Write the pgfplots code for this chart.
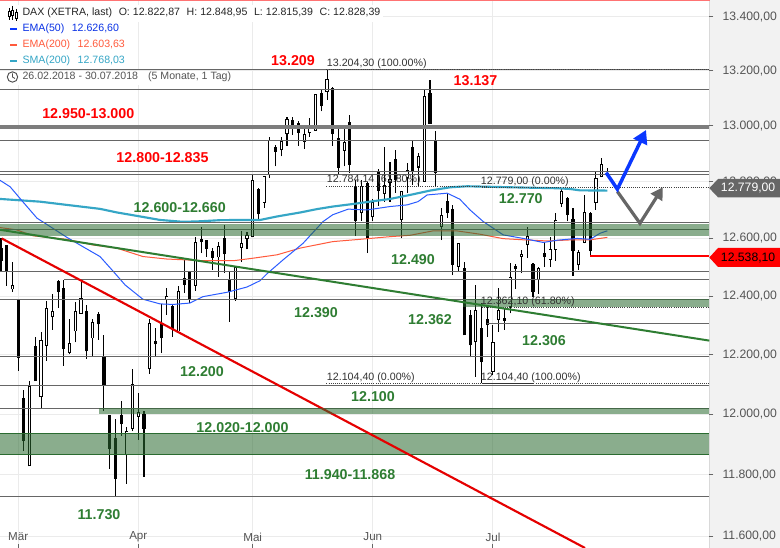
\documentclass[border=0pt]{standalone}
\usepackage{fontspec}
\setmainfont{Liberation Sans}
\usepackage{pgfplots}
\usepackage{pgfplotstable}
\pgfplotsset{compat=1.18}
\usetikzlibrary{arrows.meta}

\definecolor{bandgreen}{HTML}{2A6B30}
\definecolor{lvlgray}{HTML}{666666}
\definecolor{txtgreen}{HTML}{2E7D32}
\definecolor{ema50}{HTML}{2B5CFF}
\definecolor{ema200}{HTML}{FF5A3C}
\definecolor{sma200}{HTML}{35A6C6}
\definecolor{arrblue}{HTML}{0A37FF}
\definecolor{ticktxt}{HTML}{555555}

% candles: day index, open, high, low, close
\pgfplotstableread{
i o h l c
2 12426 12518 12415 12434
5 11831 12111 11830 12091
7 12060 12276 12021 12245
8 12234 12383 12180 12355
9 12330 12406 12284 12345
12 12210 12322 12202 12235
13 12282 12380 12241 12345
14 12343 12456 12342 12390
16 12258 12321 12195 12307
22 11867 11959 11771 11940
23 11955 12152 11943 12097
24 11995 12072 11915 12003
26 12154 12322 12135 12304
29 12391 12428 12336 12396
31 12282 12434 12281 12413
34 12438 12606 12419 12583
38 12537 12589 12467 12569
41 12394 12502 12384 12496
42 12571 12625 12517 12580
43 12602 12624 12562 12610
44 12607 12827 12606 12803
46 12729 12818 12707 12816
47 12827 12959 12814 12946
49 12916 12959 12890 12941
50 12973 13033 12928 13020
53 12945 13001 12917 12966
54 12979 13028 12961 12989
55 12985 13112 12985 13112
57 13128 13203 13094 13166
60 12914 13001 12854 12938
63 12691 12806 12662 12782
65 12677 12738 12660 12724
67 12761 12923 12729 12785
68 12798 12870 12729 12806
70 12667 12765 12600 12765
71 12816 12866 12760 12838
73 12854 12902 12782 12887
74 12804 13131 12800 13104
77 12645 12706 12594 12679
80 12504 12581 12488 12581
83 12245 12438 12126 12348
86 12146 12302 12132 12239
87 12321 12427 12278 12348
89 12364 12514 12341 12462
91 12540 12560 12479 12542
92 12580 12639 12533 12606
94 12459 12502 12407 12493
96 12529 12604 12500 12560
97 12564 12688 12523 12660
98 12726 12773 12710 12764
101 12509 12560 12490 12548
102 12588 12753 12583 12689
104 12729 12836 12700 12808
105 12820 12884 12816 12860
106 12822.87 12848.95 12815.39 12828.39
}\upcandles

\pgfplotstableread{
i o h l c
0 12566 12601 12486 12523
1 12574 12577 12436 12487
3 12387 12387 12146 12191
4 12051 12081 11879 11912
6 12229 12259 12112 12112
10 12451 12456 12360 12415
11 12425 12456 12162 12220
15 12346 12370 12186 12213
17 12335 12345 12250 12305
18 12189 12267 12011 12098
19 11997 11997 11820 11886
20 11920 11983 11729 11787
21 11997 12044 11929 11968
25 11998 12010 11793 11954
27 12243 12290 12193 12236
28 12305 12373 12205 12257
30 12366 12372 12261 12290
32 12462 12525 12410 12441
33 12481 12481 12376 12389
35 12598 12639 12548 12589
36 12593 12594 12537 12566
37 12555 12567 12490 12534
39 12601 12647 12481 12546
40 12456 12485 12312 12415
45 12773 12777 12667 12686
48 12923 12932 12854 12908
51 13020 13033 12967 13001
52 13007 13018 12929 12976
56 13117 13131 13052 13072
58 13137 13143 12929 12971
59 12956 13001 12824 12851
61 13013 13040 12830 12862
62 12782 12806 12608 12662
64 12794 12800 12548 12602
66 12836 12844 12715 12768
69 12878 12914 12761 12806
72 12923 12946 12788 12836
75 13116 13167 13009 13009
76 12947 12982 12782 12832
78 12731 12759 12671 12691
79 12700 12718 12473 12509
81 12496 12519 12267 12267
82 12332 12352 12191 12233
84 12290 12375 12104 12176
85 12321 12367 12261 12302
88 12324 12358 12284 12316
90 12503 12511 12426 12495
93 12508 12514 12398 12415
95 12548 12589 12500 12537
99 12739 12747 12660 12683
100 12665 12706 12470 12557
103 12686 12691 12538 12557
}\downcandles

\pgfplotsset{
  lvl/.style={lvlgray, line width=.72pt, forget plot},
  fib/.style={black!75, line width=.6pt, densely dotted, forget plot},
  band/.style={fill=bandgreen, fill opacity=.55, draw=none, forget plot},
  wick/.style={black, line width=.8pt, forget plot},
  bodyblack/.style={black, line width=2.3pt, forget plot},
  bodyframe/.style={black, line width=2.4pt, forget plot},
  bodywhite/.style={white, line width=1pt, forget plot},
}
% from, to, price
\newcommand\lvline[3]{\addplot[lvl] coordinates {(#1,#3) (#2,#3)};}
\newcommand\fibline[3]{\addplot[fib] coordinates {(#1,#3) (#2,#3)};}

\newcommand\readcandle[2]{%
  \pgfplotstablegetelem{#2}{i}\of#1\let\ci\pgfplotsretval
  \pgfplotstablegetelem{#2}{o}\of#1\let\co\pgfplotsretval
  \pgfplotstablegetelem{#2}{h}\of#1\let\ch\pgfplotsretval
  \pgfplotstablegetelem{#2}{l}\of#1\let\cl\pgfplotsretval
  \pgfplotstablegetelem{#2}{c}\of#1\let\cc\pgfplotsretval}
\newcommand\upplots{%
  \pgfplotstablegetrowsof{\upcandles}\pgfmathtruncatemacro\lastrow{\pgfplotsretval-1}%
  \pgfplotsforeachungrouped \r in {0,...,\lastrow}{%
    \readcandle{\upcandles}{\r}%
    \pgfmathsetmacro\fl{\co/1.00028}\pgfmathsetmacro\fh{\cc*1.00028}%
    \edef\temp{\noexpand\addplot[wick] coordinates {(\ci,\cl) (\ci,\ch)};
      \noexpand\addplot[bodyframe] coordinates {(\ci,\fl) (\ci,\fh)};
      \noexpand\addplot[bodywhite] coordinates {(\ci,\co) (\ci,\cc)};}\temp}}
\newcommand\downplots{%
  \pgfplotstablegetrowsof{\downcandles}\pgfmathtruncatemacro\lastrow{\pgfplotsretval-1}%
  \pgfplotsforeachungrouped \r in {0,...,\lastrow}{%
    \readcandle{\downcandles}{\r}%
    \pgfmathsetmacro\fl{\cc/1.00014}\pgfmathsetmacro\fh{\co*1.00014}%
    \edef\temp{\noexpand\addplot[wick] coordinates {(\ci,\cl) (\ci,\ch)};
      \noexpand\addplot[bodyblack] coordinates {(\ci,\fl) (\ci,\fh)};}\temp}}

% position in pixels of the reference, y from the top
\def\P(#1,#2){({#1*0.75pt},{(548-#2)*0.75pt})}
\newcommand\lab[4]{\node[font=\fontsize{10.7pt}{12pt}\bfseries\selectfont, text=#1, inner sep=0pt] at \P(#2,#3) {#4};}
\newcommand\fiblab[3]{\node[font=\fontsize{8pt}{10pt}\selectfont, text=black!80, anchor=west, inner sep=0pt] at \P(#1,#2) {#3};}
\newcommand\legfont{\fontsize{7.95pt}{10pt}\selectfont}

\begin{document}
\begin{tikzpicture}
\path[use as bounding box] (0,0) rectangle (585pt,411pt);
\fill[white] (0,0) rectangle (585pt,411pt);
\fill[black!5] \P(709.5,0) rectangle \P(780,548);
\draw[black!15, line width=.75pt] \P(709.6,0) -- \P(709.6,548);

\begin{axis}[
  at={(0,0)}, anchor=south west,
  scale only axis, width=532pt, height=411pt,
  % the price scale of the chart is logarithmic
  y coord trafo/.code={\begingroup\pgfkeys{/pgf/fpu,/pgf/fpu/output format=fixed}\pgfmathparse{ln(#1)*1000}\xdef\trafores{\pgfmathresult}\endgroup\let\pgfmathresult\trafores},
  y coord inv trafo/.code={\begingroup\pgfkeys{/pgf/fpu,/pgf/fpu/output format=fixed}\pgfmathparse{exp(#1/1000)}\xdef\trafores{\pgfmathresult}\endgroup\let\pgfmathresult\trafores},
  xmin=-0.175, xmax=123.83,
  ymin=11562.4, ymax=13462.3,
  axis line style={draw=none},
  grid=major, grid style={black!8, line width=.7pt},
  xtick={3,24,44,65,86},
  xticklabels={Mär,Apr,Mai,Jun,Jul},
  xtick pos=bottom, xtick align=inside,
  xticklabel style={anchor=center, yshift=8.2pt, text=ticktxt, font=\fontsize{8.7pt}{10pt}\selectfont},
  ytick={11600,11800,12000,12200,12400,12600,12800,13000,13200,13400},
  yticklabels={{11.600,00},{11.800,00},{12.000,00},{12.200,00},{12.400,00},{12.600,00},{12.800,00},{13.000,00},{13.200,00},{13.400,00}},
  ytick pos=right, ytick align=outside,
  yticklabel style={anchor=west, xshift=3.4pt, text=ticktxt, font=\fontsize{9.15pt}{11pt}\selectfont},
  major tick length=3pt,
  tick style={lvlgray, line width=.7pt},
  minor tick num=0,
]

% candle wicks and bodies
\upplots
\downplots

% moving averages
\addplot[sma200, line width=1.6pt, forget plot] coordinates {
 (-0.17,12739) (2.8,12735) (6.8,12729) (11.5,12718) (17.3,12704) (20.3,12691)
 (24.3,12677) (27.8,12665) (31.8,12658) (34.8,12660) (38.3,12664) (41.8,12665)
 (45.3,12665) (48.3,12677) (52.3,12691) (55.2,12703) (58,12712) (61.5,12721)
 (64.5,12729) (68,12739) (71.5,12753) (75,12768) (78.5,12780) (81.5,12784)
 (85.5,12782) (91.3,12779) (97.2,12777) (99.5,12774) (101.2,12769) (106,12768.03)};
\addplot[ema200, line width=.75pt, forget plot] coordinates {
 (-0.17,12638) (2.7,12630) (5.6,12609) (11.5,12597) (16.1,12577) (20.2,12566)
 (24.8,12537) (29,12528) (34.8,12523) (40.6,12522) (44.1,12531) (48.3,12543)
 (52.3,12566) (58,12589) (62.8,12597) (68,12606) (71.5,12611) (75.5,12626)
 (79.7,12626) (83.7,12615) (87.8,12599) (91.3,12595) (95.5,12591) (100,12595)
 (103,12595) (106,12603.63)};
\addplot[ema50, line width=.75pt, forget plot] coordinates {
 (-0.17,12805) (1.6,12782) (3.8,12729) (6.3,12671) (8.6,12641) (11.5,12604)
 (13.8,12577) (17.3,12537) (19.4,12490) (21.7,12438) (24.8,12389) (27.8,12373)
 (30.1,12371) (33,12376) (35.3,12398) (39.5,12413) (43,12431) (45.3,12453)
 (46.5,12477) (49.3,12525) (52.8,12583) (56.3,12659) (58,12683) (60.7,12703)
 (64,12700) (68,12712) (71,12718) (72.9,12729) (74.5,12753) (78,12759)
 (80.2,12738) (82,12700) (84.3,12659) (87.8,12612) (91.3,12600) (94.8,12586)
 (97.2,12594) (100.7,12600) (103,12597) (104.7,12618) (106,12626.60)};

% support and resistance levels
\lvline{-0.175}{123.83}{13206}
\lvline{-0.175}{123.83}{13133}
\lvline{-0.175}{123.83}{12948}
\lvline{-0.175}{123.83}{12835}
\lvline{-0.175}{123.83}{12826}
\lvline{-0.175}{123.83}{12657}
\lvline{-0.175}{123.83}{12632}
\lvline{-0.175}{123.83}{12486}
\lvline{11}{123.83}{12458}
\lvline{-0.175}{123.83}{12390}
\lvline{85}{123.83}{12306}
\lvline{-0.175}{123.83}{12194}
\lvline{-0.175}{123.83}{12097}
\lvline{-0.175}{123.83}{12020}
\lvline{-0.175}{123.83}{11731}
\addplot[lvlgray!85, line width=3.2pt, forget plot] coordinates {(-0.175,12996) (123.83,12996)};

% fibonacci levels
\fibline{56.9}{123.83}{13204.3}
\fibline{56.9}{85}{12784.14}
\fibline{84}{123.83}{12779}
\fibline{84}{123.83}{12362.1}
\fibline{56.9}{123.83}{12104.4}
\addplot[black!80, line width=.7pt, forget plot] coordinates {(84,12104.4) (93,12104.4)};

% bands and trend lines
\addplot[band] coordinates {(-0.175,11868) (123.83,11868) (123.83,11934) (-0.175,11934)} --cycle;
\addplot[bandgreen, line width=.7pt, forget plot] coordinates {(-0.175,11868) (123.83,11868)};
\addplot[bandgreen, line width=.7pt, forget plot] coordinates {(-0.175,11934) (123.83,11934)};
\addplot[red!90!black, line width=1.6pt, forget plot] coordinates {(0.12,12600) (102.1,11562.4)};
\addplot[band] coordinates {(17.1,12000) (123.83,12000) (123.83,12020) (17.1,12020)} --cycle;
\addplot[band] coordinates {(-0.175,12608) (123.83,12608) (123.83,12652) (-0.175,12652)} --cycle;
\addplot[band] coordinates {(80.8,12362) (123.83,12362) (123.83,12390) (80.8,12390)} --cycle;
\addplot[txtgreen, line width=1.5pt, forget plot] coordinates {(-0.175,12630) (123.83,12247.5)};

% last low and the two scenarios
\addplot[red, line width=1.5pt, forget plot] coordinates {(103,12538.1) (123.83,12538.1)};
\addplot[lvlgray, line width=2.4pt, forget plot, line join=miter, -{Triangle[length=9pt,width=10pt]}] coordinates {(107.75,12765) (111.7,12653) (115.7,12780)};
\addplot[arrblue, line width=2.6pt, forget plot, line join=miter, -{Triangle[length=10pt,width=11pt]}] coordinates {(105.8,12832) (107.75,12773) (112.76,12985)};
\end{axis}

% chart's own top edge
\draw[red!55, line width=.8pt] \P(0,0.5) -- \P(709.5,0.5);

% price tags
\fill[lvlgray] \P(709.3,188.2) -- \P(718,179) -- \P(780,179) -- \P(780,197.3) -- \P(718,197.3) -- cycle;
\node[font=\fontsize{9.15pt}{11pt}\selectfont, text=white, anchor=west, inner sep=0pt] at \P(720.7,188.3) {12.779,00};
\fill[red] \P(709.3,257.5) -- \P(718,248) -- \P(780,248) -- \P(780,267) -- \P(718,267) -- cycle;
\node[font=\fontsize{9.15pt}{11pt}\selectfont, text=black, anchor=west, inner sep=0pt] at \P(720.7,257.7) {12.538,10};

% level labels
\lab{red}{293}{61}{13.209}
\lab{red}{475.5}{81}{13.137}
\lab{red}{88.3}{114}{12.950-13.000}
\lab{red}{162.5}{158}{12.800-12.835}
\lab{txtgreen}{179.7}{208}{12.600-12.660}
\lab{txtgreen}{520.8}{199}{12.770}
\lab{txtgreen}{413}{260}{12.490}
\lab{txtgreen}{316}{313}{12.390}
\lab{txtgreen}{430}{320}{12.362}
\lab{txtgreen}{544}{341}{12.306}
\lab{txtgreen}{202}{372}{12.200}
\lab{txtgreen}{373}{397}{12.100}
\lab{txtgreen}{242.5}{428}{12.020-12.000}
\lab{txtgreen}{350}{475}{11.940-11.868}
\lab{txtgreen}{99}{515}{11.730}

% fibonacci labels
\fiblab{326.7}{64}{13.204,30 (100.00\%)}
\fiblab{326.7}{180}{12.784,14 (61.80\%)}
\fiblab{480.7}{182}{12.779,00 (0.00\%)}
\fiblab{480.7}{301.3}{12.362,10 (61.80\%)}
\fiblab{326.7}{377.3}{12.104,40 (0.00\%)}
\fiblab{480.7}{377.3}{12.104,40 (100.00\%)}

% header and legend
\fill[white] \P(0,5) rectangle \P(383,22);
\fill[white] \P(0,22) rectangle \P(130,68.8);
\fill[white] \P(0,70.8) rectangle \P(240,85);
\foreach \x/\a/\b/\c/\d in {9/8/20/11/16, 12.5/6/20/10/15, 16/9/21/12/18}{
  \draw[black, line width=.6pt] \P(\x,\a) -- \P(\x,\b);
  \draw[black, fill=white, line width=.6pt] ({(\x-1)*0.75pt},{(548-\c)*0.75pt}) rectangle ({(\x+1)*0.75pt},{(548-\d)*0.75pt});
}
\node[font=\legfont, text=black!85, anchor=west, inner sep=0pt] at \P(22.3,13) {DAX (XETRA, last)\hspace{5pt}O: 12.822,87\hspace{5pt}H: 12.848,95\hspace{5pt}L: 12.815,39\hspace{5pt}C: 12.828,39};
\fill[arrblue] \P(9.5,28) rectangle \P(16.5,30.5);
\node[font=\legfont, text=arrblue!90!black, anchor=west, inner sep=0pt] at \P(22.3,29) {EMA(50)\hspace{5.6pt}12.626,60};
\fill[ema200] \P(9.5,44) rectangle \P(16.5,46.5);
\node[font=\legfont, text=ema200, anchor=west, inner sep=0pt] at \P(22.3,45) {EMA(200)\hspace{5.6pt}12.603,63};
\fill[sma200] \P(9.5,60) rectangle \P(16.5,62.5);
\node[font=\legfont, text=sma200, anchor=west, inner sep=0pt] at \P(22.3,61) {SMA(200)\hspace{5.6pt}12.768,03};
\draw[black!70, line width=.7pt] \P(12.5,77) circle (3.9pt);
\draw[black!70, line width=.6pt] \P(12.5,73.5) -- \P(12.5,77) -- \P(15,78.5);
\node[font=\legfont, text=ticktxt, anchor=west, inner sep=0pt] at \P(22.3,77) {26.02.2018 - 30.07.2018\hspace{7.5pt}(5 Monate, 1 Tag)};
\end{tikzpicture}
\end{document}
